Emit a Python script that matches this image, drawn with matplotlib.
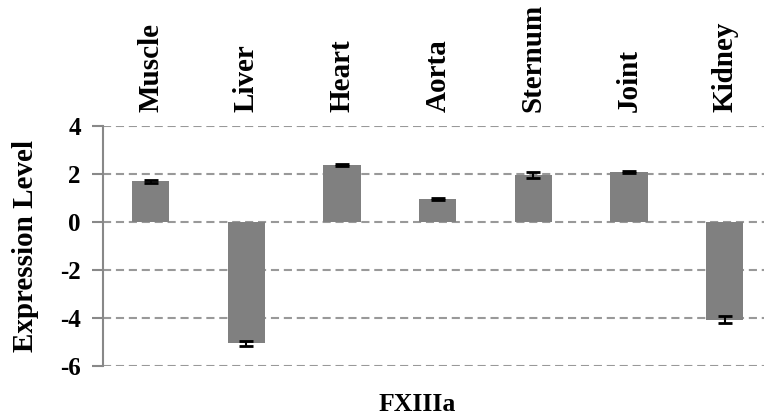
import matplotlib
matplotlib.use("Agg")
import matplotlib.pyplot as plt

tissues = ["Muscle", "Liver", "Heart", "Aorta", "Sternum", "Joint", "Kidney"]
expression = [1.70, -5.05, 2.38, 0.95, 1.95, 2.08, -4.07]
errors = [0.07, 0.10, 0.05, 0.04, 0.12, 0.04, 0.15]
y_ticks = [4, 2, 0, -2, -4, -6]

plt.rcParams["font.family"] = ["Liberation Serif", "DejaVu Serif"]
plt.rcParams["font.weight"] = "bold"
plt.rcParams["axes.unicode_minus"] = False

fig = plt.figure(figsize=(7.64, 4.19), dpi=100)
ax = fig.add_axes([103 / 764, 1 - 366 / 419, 661 / 764, 240 / 419])

x = list(range(len(tissues)))
ax.bar(x, expression, width=0.39, color="#808080", zorder=2)
ax.errorbar(x, expression, yerr=errors, fmt="none", ecolor="black",
            elinewidth=1.5, capsize=5, capthick=2, zorder=3)

ax.set_ylim(-6, 4)
ax.set_xlim(-0.5, 6.41)
ax.set_yticks(y_ticks)
ax.yaxis.grid(True, linestyle=(0, (3.9, 2.3)), color="#999999", linewidth=1.5, zorder=1)
ax.set_axisbelow(True)

for side in ["top", "right", "bottom"]:
    ax.spines[side].set_visible(False)
ax.spines["left"].set_color("#888888")
ax.spines["left"].set_linewidth(1.5)
ax.tick_params(axis="y", direction="out", length=8, width=1.5, color="#888888",
               labelsize=18, pad=8)
for lab in ax.get_yticklabels():
    lab.set_fontweight("bold")

ax.xaxis.tick_top()
ax.set_xticks(x)
ax.set_xticklabels(tissues, rotation=90, fontsize=21, fontweight="bold")
ax.tick_params(axis="x", length=0, pad=10)

ax.set_ylabel("Expression Level", fontsize=21, fontweight="bold", labelpad=15)
fig.text(417 / 764, 1 - 404 / 419, "FXIIIa", ha="center",
         va="center", fontsize=18.5, fontweight="bold")

fig.savefig("out.png", dpi=100)
